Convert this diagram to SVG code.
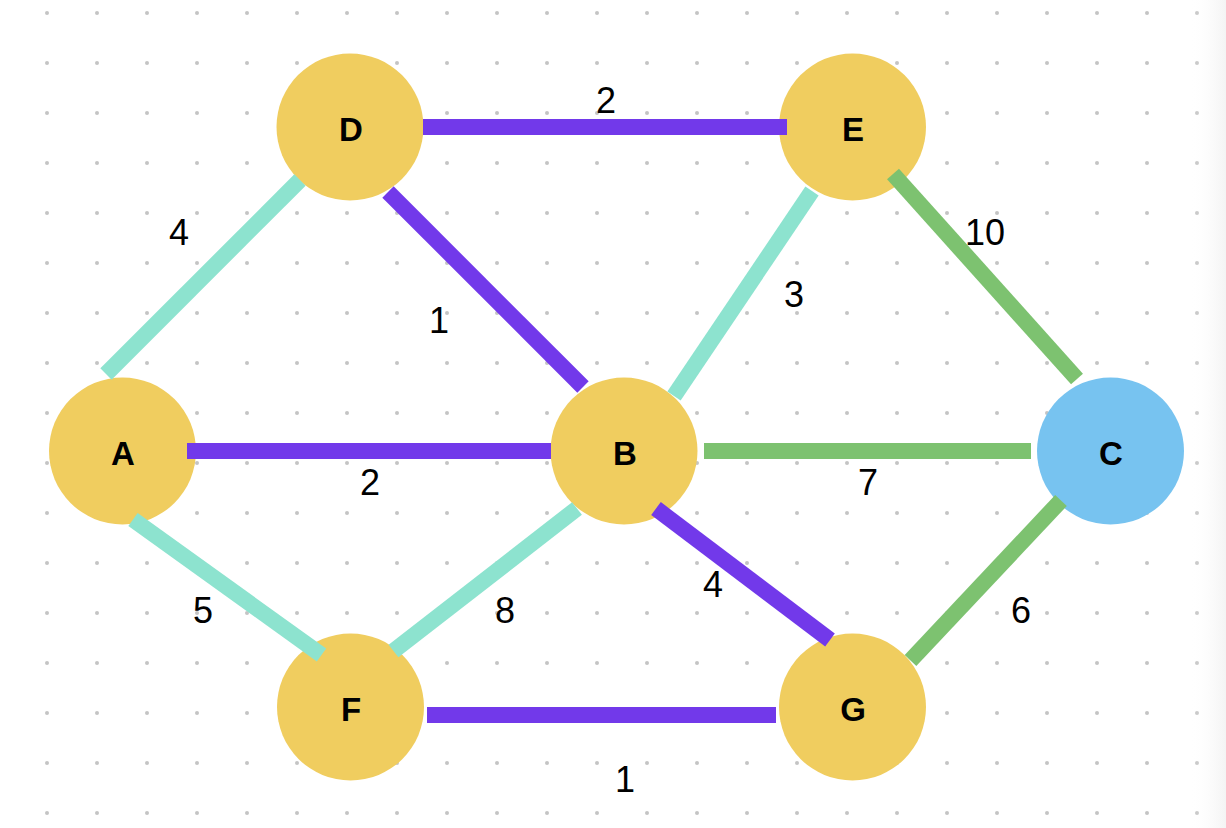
<svg xmlns="http://www.w3.org/2000/svg" width="1226" height="828" viewBox="0 0 1226 828">
  <defs>
    <pattern id="dots" patternUnits="userSpaceOnUse" x="22" y="-12" width="50" height="50">
      <circle cx="25" cy="25" r="2" fill="#c4c4c4"/>
    </pattern>
    <linearGradient id="edge" x1="0" y1="0" x2="1" y2="0">
      <stop offset="0" stop-color="#ffffff" stop-opacity="0"/>
      <stop offset="1" stop-color="#ececec" stop-opacity="0.6"/>
    </linearGradient>
  </defs>
  <style>
    .e { fill: none; stroke-width: 16; stroke-linecap: butt; }
    .p { stroke: #7239ea; }
    .t { stroke: #8de3cf; }
    .g { stroke: #7dc270; }
    .n { fill: #f0cd5f; }
    .nc { fill: #77c3f0; }
    .nl { font-family: "Liberation Sans", Arial, sans-serif; font-size: 33px; font-weight: bold; fill: #000; text-anchor: middle; }
    .el { font-family: "Liberation Sans", Arial, sans-serif; font-size: 36px; fill: #000; text-anchor: middle; }
  </style>
  <rect width="1226" height="828" fill="#ffffff"/>
  <rect width="1226" height="828" fill="url(#dots)"/>
  <rect x="1190" y="0" width="36" height="828" fill="url(#edge)"/>

  <g id="node-A"><circle class="n" cx="122.5" cy="451" r="73.5"/><text class="nl" x="123" y="465">A</text></g>
  <g id="node-B"><circle class="n" cx="624" cy="451" r="73.5"/><text class="nl" x="625" y="465">B</text></g>
  <g id="node-C"><circle class="nc" cx="1110.5" cy="451" r="73.5"/><text class="nl" x="1111" y="465">C</text></g>
  <g id="node-D"><circle class="n" cx="350" cy="127" r="73.5"/><text class="nl" x="351" y="141">D</text></g>
  <g id="node-E"><circle class="n" cx="852.5" cy="127" r="73.5"/><text class="nl" x="853" y="141">E</text></g>
  <g id="node-F"><circle class="n" cx="350.5" cy="707" r="73.5"/><text class="nl" x="351" y="721">F</text></g>
  <g id="node-G"><circle class="n" cx="852.5" cy="707" r="73.5"/><text class="nl" x="853" y="721">G</text></g>

  <g id="connectors">
    <line class="e p" x1="423" y1="127" x2="787" y2="127"/>
    <line class="e t" x1="106" y1="374" x2="300" y2="180"/>
    <line class="e p" x1="388" y1="192" x2="583" y2="387"/>
    <line class="e t" x1="812" y1="191" x2="674" y2="396"/>
    <line class="e g" x1="893" y1="174" x2="1077" y2="379"/>
    <line class="e p" x1="187" y1="451" x2="551" y2="451"/>
    <line class="e g" x1="704" y1="451" x2="1031" y2="451"/>
    <line class="e t" x1="133" y1="519.5" x2="321.5" y2="655"/>
    <line class="e t" x1="393.5" y1="651" x2="577" y2="508.5"/>
    <line class="e p" x1="656" y1="508.5" x2="830" y2="640"/>
    <line class="e g" x1="1061" y1="500.5" x2="910.5" y2="660.5"/>
    <line class="e p" x1="427" y1="715" x2="776" y2="715"/>

    <text class="el" x="606" y="113">2</text>
    <text class="el" x="179" y="245">4</text>
    <text class="el" x="439" y="333">1</text>
    <text class="el" x="794" y="307">3</text>
    <text class="el" x="985" y="245">10</text>
    <text class="el" x="370" y="495">2</text>
    <text class="el" x="868" y="495">7</text>
    <text class="el" x="203" y="623">5</text>
    <text class="el" x="505" y="623">8</text>
    <text class="el" x="713" y="597">4</text>
    <text class="el" x="1021" y="623">6</text>
    <text class="el" x="625" y="792">1</text>
  </g>
</svg>
